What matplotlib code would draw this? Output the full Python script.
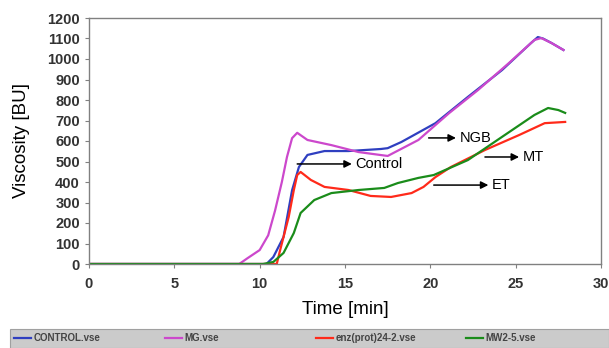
import matplotlib.pyplot as plt
from matplotlib.patches import Rectangle

# Brabender viscosity curves
time_control = [0, 10.4, 10.8, 11.4, 11.9, 12.3, 12.8, 13.8, 15.2, 17.1, 17.5, 18.3,
                20.3, 22.2, 24.2, 25.9, 26.3, 26.6, 27.1, 27.8]
visc_control = [0, 0, 34, 132, 360, 473, 532, 551, 551, 561, 565, 595,
                687, 815, 946, 1078, 1107, 1100, 1078, 1044]

time_mg = [0, 8.8, 9.3, 10.0, 10.5, 10.9, 11.3, 11.6, 11.9, 12.2, 12.8, 14.2,
           15.8, 17.5, 19.3, 21.1, 22.8, 24.6, 26.1, 26.5, 27.1, 27.8]
visc_mg = [0, 0, 29, 68, 140, 260, 400, 522, 614, 640, 605, 580,
           546, 527, 605, 736, 849, 980, 1093, 1102, 1078, 1044]

time_enz = [0, 11.0, 11.2, 11.7, 12.0, 12.2, 12.4, 13.0, 13.8, 15.2, 16.5, 17.7,
            18.9, 19.6, 20.3, 21.2, 23.2, 25.2, 26.7, 27.9]
visc_enz = [0, 0, 68, 229, 360, 434, 449, 410, 376, 361, 332, 327,
            346, 376, 424, 473, 556, 629, 687, 693]

time_mw = [0, 10.2, 10.8, 11.4, 12.0, 12.4, 13.2, 14.2, 15.8, 17.3, 18.1, 19.3,
           20.2, 22.2, 24.2, 26.1, 26.9, 27.5, 27.9]
visc_mw = [0, 0, 10, 54, 151, 249, 312, 346, 361, 371, 395, 420,
           434, 507, 620, 727, 761, 751, 737]

series_names = ['CONTROL.vse', 'MG.vse', 'enz(prot)24-2.vse', 'MW2-5.vse']
series_colors = ['#2f3fc0', '#cc48cc', '#ff2a1a', '#1a8c1a']

# arrow labels: (text, arrow start, arrow end, y)
labels = ['Control', 'NGB', 'MT', 'ET']
arrow_x0 = [12.2, 19.9, 23.2, 20.2]
arrow_x1 = [15.4, 21.5, 25.2, 23.4]
arrow_y = [488, 615, 522, 385]

plt.rcParams['font.family'] = ['Liberation Sans', 'DejaVu Sans']

W, H = 609, 348
fig = plt.figure(figsize=(W / 100, H / 100), dpi=100)
ax = fig.add_axes([89 / W, 84 / H, 512 / W, 246 / H])

data = [(time_control, visc_control), (time_mg, visc_mg),
        (time_enz, visc_enz), (time_mw, visc_mw)]
lines = []
for (t, v), name, c in zip(data, series_names, series_colors):
    ln, = ax.plot(t, v, color=c, lw=1.6, label=name)
    lines.append(ln)

for txt, x0, x1, y in zip(labels, arrow_x0, arrow_x1, arrow_y):
    ax.annotate('', xy=(x1, y), xytext=(x0, y),
                arrowprops=dict(arrowstyle='-|>', color='black', lw=1.1,
                                mutation_scale=11, shrinkA=0, shrinkB=0))
    ax.text(x1 + 0.2, y, txt, fontsize=10.5, va='center', ha='left')

ax.set_xlim(0, 30)
ax.set_ylim(0, 1200)
ax.set_xticks(range(0, 31, 5))
ax.set_yticks(range(0, 1201, 100))
ax.tick_params(direction='out', length=3, color='#808080', labelsize=10.5,
               labelcolor='#333333')
ax.tick_params(axis='x', pad=6)
for lab in ax.get_xticklabels() + ax.get_yticklabels():
    lab.set_fontweight('bold')
for s in ax.spines.values():
    s.set_color('#808080')
    s.set_linewidth(1)

ax.set_xlabel('Time [min]', fontsize=13.5)
ax.set_ylabel('Viscosity [BU]', fontsize=13.5)
ax.xaxis.set_label_coords(0.5, -0.15)
ax.yaxis.set_label_coords(-0.115, 0.5)

# grey legend bar along the bottom, one entry per series
fig.add_artist(Rectangle((10 / W, 0), 599 / W, 19 / H, transform=fig.transFigure,
                         facecolor='#cbcbcb', edgecolor='#a0a0a0', lw=0.8))
entry_x = [14, 165, 316, 466]
for ln, x in zip(lines, entry_x):
    leg = fig.legend(handles=[ln], loc='center left',
                     bbox_to_anchor=(x / W, 10 / H), frameon=False,
                     fontsize=7, handlelength=1.7, handletextpad=0.3,
                     borderpad=0, borderaxespad=0, labelcolor='#444444')
    leg.get_texts()[0].set_fontweight('bold')

plt.savefig('out.png', dpi=100)
